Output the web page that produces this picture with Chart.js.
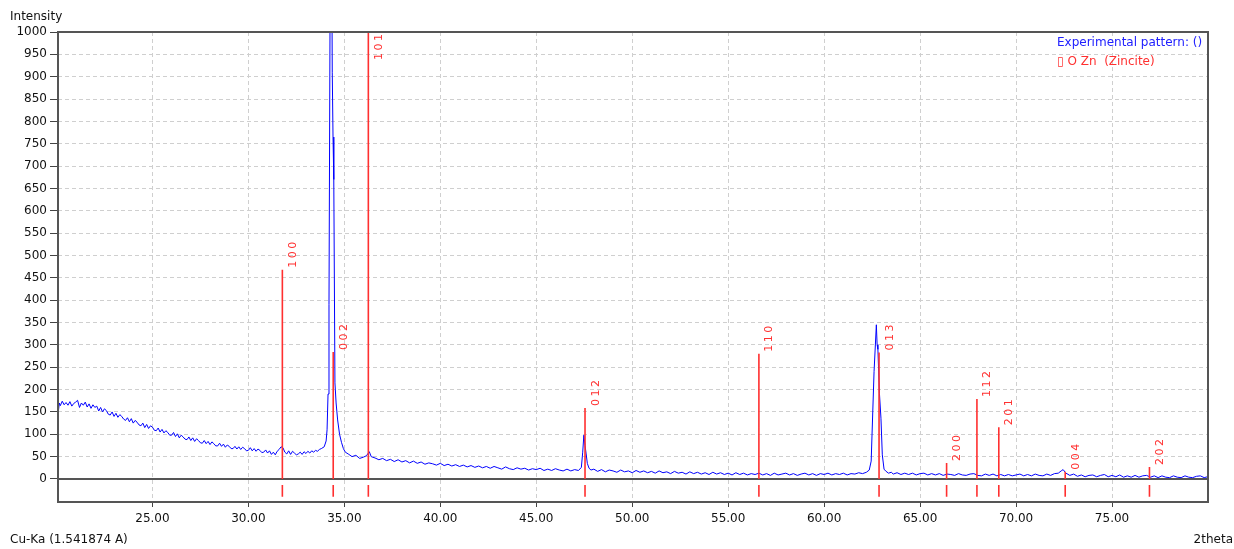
<!DOCTYPE html>
<html>
<head>
<meta charset="utf-8">
<script src="https://cdn.jsdelivr.net/npm/chart.js@4/dist/chart.umd.min.js"></script>
<style>
  html, body { margin: 0; padding: 0; background: #fff; }
  canvas { display: block; }
</style>
</head>
<body>
<canvas id="xrd" width="1234" height="549"></canvas>
<script>
/* Data */
const X_MIN = 20.08;
const X_MAX = 80;
const Y_MIN = -51.5;
const Y_MAX = 1000;

const xTicks = [25, 30, 35, 40, 45, 50, 55, 60, 65, 70, 75];
const yTicks = [0, 50, 100, 150, 200, 250, 300, 350, 400, 450, 500,
    550, 600, 650, 700, 750, 800, 850, 900, 950, 1000];

// Zincite reference lines
const refHkl = ["100", "002", "101", "012", "110", "013", "200", "112", "201", "004", "202"];
const refPos = [31.77, 34.42, 36.25, 47.54, 56.60, 62.86, 66.38, 67.96, 69.10, 72.56, 76.95];
const refInt = [468, 284, 1000, 159, 280, 283, 36, 179, 116, 16, 27];

// measured pattern [2theta, intensity]
const expPattern = [
    [20.10, 152], [20.15, 170], [20.2, 164], [20.3, 174], [20.4, 166], [20.5, 171], [20.6, 165], [20.7, 173],
    [20.8, 163], [20.9, 169], [21.0, 172], [21.1, 176], [21.2, 160], [21.3, 170], [21.4, 165], [21.5, 172],
    [21.6, 161], [21.7, 168], [21.8, 158], [21.9, 166], [22.0, 160], [22.1, 163], [22.2, 152], [22.3, 160],
    [22.4, 150], [22.5, 157], [22.6, 153], [22.7, 145], [22.8, 143], [22.9, 150], [23.0, 140], [23.1, 147],
    [23.2, 138], [23.3, 144], [23.4, 140], [23.5, 134], [23.6, 131], [23.7, 137], [23.8, 128], [23.9, 135],
    [24.0, 125], [24.1, 131], [24.2, 127], [24.3, 121], [24.4, 119], [24.5, 125], [24.6, 115], [24.7, 122],
    [24.8, 113], [24.9, 119], [25.0, 116], [25.1, 109], [25.2, 108], [25.3, 114], [25.4, 105], [25.5, 111],
    [25.6, 103], [25.7, 108], [25.8, 104], [25.9, 98], [26.0, 98], [26.1, 104], [26.2, 95], [26.3, 101],
    [26.4, 92], [26.5, 98], [26.6, 94], [26.7, 89], [26.8, 88], [26.9, 94], [27.0, 86], [27.1, 92],
    [27.2, 84], [27.3, 90], [27.4, 86], [27.5, 81], [27.6, 80], [27.7, 86], [27.8, 79], [27.9, 84],
    [28.0, 77], [28.1, 83], [28.2, 79], [28.3, 74], [28.4, 74], [28.5, 80], [28.6, 73], [28.7, 78],
    [28.8, 71], [28.9, 76], [29.0, 73], [29.1, 68], [29.2, 68], [29.3, 73], [29.4, 67], [29.5, 72],
    [29.6, 66], [29.7, 71], [29.8, 68], [29.9, 63], [30.0, 64], [30.1, 70], [30.2, 63], [30.3, 68],
    [30.4, 62], [30.5, 67], [30.6, 64], [30.7, 59], [30.8, 60], [30.9, 65], [31.0, 58], [31.1, 63],
    [31.2, 55], [31.3, 60], [31.4, 54], [31.5, 62], [31.6, 66], [31.7, 72], [31.8, 70], [31.9, 60],
    [32.0, 56], [32.1, 63], [32.2, 55], [32.3, 62], [32.4, 58], [32.5, 54], [32.6, 56], [32.7, 60],
    [32.8, 55], [32.9, 61], [33.0, 57], [33.1, 62], [33.2, 58], [33.3, 63], [33.4, 60], [33.5, 64],
    [33.6, 62], [33.7, 66], [33.8, 68], [33.95, 72],
    [34.05, 85], [34.10, 110], [34.15, 190], [34.20, 390], [34.26, 1100], [34.32, 1450], [34.37, 910],
    [34.41, 765], [34.45, 670], [34.51, 215], [34.57, 170], [34.65, 132], [34.75, 100], [34.85, 82],
    [34.95, 68], [35.05, 60], [35.2, 56], [35.4, 50], [35.6, 53], [35.8, 46], [36.0, 49], [36.15, 52],
    [36.3, 61], [36.4, 50], [36.6, 47], [36.8, 43], [37.0, 46], [37.2, 41], [37.4, 44], [37.6, 39],
    [37.8, 43], [38.0, 38], [38.2, 41], [38.4, 36], [38.6, 40], [38.8, 35], [39.0, 38], [39.2, 33],
    [39.4, 36], [39.6, 34], [39.8, 31], [40.0, 35], [40.2, 30], [40.4, 33], [40.6, 29], [40.8, 32],
    [41.0, 28], [41.2, 31], [41.4, 27], [41.6, 30], [41.8, 26], [42.0, 29], [42.2, 25], [42.4, 28],
    [42.6, 24], [42.8, 28], [43.0, 25], [43.2, 22], [43.4, 27], [43.6, 23], [43.8, 21], [44.0, 25],
    [44.2, 22], [44.4, 24], [44.6, 20], [44.8, 23], [45.0, 21], [45.2, 24], [45.4, 19], [45.6, 22],
    [45.8, 19], [46.0, 23], [46.2, 20], [46.4, 18], [46.6, 22], [46.8, 18], [47.0, 21], [47.2, 19],
    [47.35, 26], [47.42, 60], [47.48, 98], [47.54, 75], [47.6, 56], [47.66, 35], [47.75, 24], [47.85, 20],
    [48.0, 22], [48.2, 17], [48.4, 21], [48.6, 16], [48.8, 20], [49.0, 18], [49.2, 15], [49.4, 20],
    [49.6, 16], [49.8, 18], [50.0, 14], [50.2, 19], [50.4, 15], [50.6, 18], [50.8, 14], [51.0, 17],
    [51.2, 13], [51.4, 18], [51.6, 14], [51.8, 16], [52.0, 12], [52.2, 17], [52.4, 13], [52.6, 15],
    [52.8, 11], [53.0, 16], [53.2, 12], [53.4, 15], [53.6, 11], [53.8, 14], [54.0, 10], [54.2, 15],
    [54.4, 11], [54.6, 14], [54.8, 10], [55.0, 13], [55.2, 9], [55.4, 14], [55.6, 10], [55.8, 13],
    [56.0, 9], [56.2, 12], [56.4, 10], [56.6, 13], [56.8, 9], [57.0, 12], [57.2, 8], [57.4, 13],
    [57.6, 9], [57.8, 11], [58.0, 13], [58.2, 9], [58.4, 12], [58.6, 8], [58.8, 11], [59.0, 13],
    [59.2, 9], [59.4, 12], [59.6, 8], [59.8, 12], [60.0, 10], [60.2, 13], [60.4, 9], [60.6, 12],
    [60.8, 10], [61.0, 13], [61.2, 9], [61.4, 12], [61.6, 11], [61.8, 14], [62.0, 12], [62.2, 15],
    [62.35, 20], [62.45, 40], [62.6, 240], [62.72, 345], [62.76, 300], [62.8, 290], [62.88, 192],
    [62.96, 136], [63.03, 54], [63.12, 22], [63.2, 18], [63.35, 13], [63.5, 15], [63.6, 11], [63.8, 14],
    [64.0, 10], [64.2, 13], [64.4, 10], [64.6, 13], [64.8, 9], [65.0, 12], [65.2, 13], [65.4, 9],
    [65.6, 12], [65.8, 9], [66.0, 12], [66.2, 8], [66.4, 11], [66.6, 10], [66.8, 8], [67.0, 12],
    [67.2, 9], [67.4, 8], [67.6, 11], [67.8, 12], [68.0, 8], [68.2, 7], [68.4, 11], [68.6, 8],
    [68.8, 11], [69.0, 7], [69.2, 10], [69.4, 7], [69.6, 10], [69.8, 7], [70.0, 9], [70.2, 11],
    [70.4, 7], [70.6, 10], [70.8, 7], [71.0, 11], [71.2, 8], [71.4, 7], [71.6, 11], [71.8, 8],
    [72.0, 12], [72.2, 13], [72.35, 18], [72.45, 21], [72.6, 13], [72.8, 8], [73.0, 11], [73.2, 6],
    [73.4, 9], [73.6, 5], [73.8, 8], [74.0, 9], [74.2, 5], [74.4, 8], [74.6, 10], [74.8, 5],
    [75.0, 8], [75.2, 5], [75.4, 9], [75.6, 4], [75.8, 7], [76.0, 4], [76.2, 8], [76.4, 4],
    [76.6, 7], [76.8, 8], [77.0, 4], [77.2, 7], [77.4, 3], [77.6, 7], [77.8, 4], [78.0, 3],
    [78.2, 7], [78.4, 4], [78.6, 3], [78.8, 7], [79.0, 4], [79.2, 3], [79.4, 6], [79.6, 7],
    [79.8, 3], [79.98, 5]
];

const FONT = '"DejaVu Sans", "Liberation Sans", sans-serif';
const RED = '#ff3030';
const BLUE = '#0000ff';

/* Build the stick datasets */
let stickData = [];
let stickMarks = [];
for (let i = 0; i < refPos.length; i++) {
    stickData.push({x: refPos[i], y: 0}, {x: refPos[i], y: refInt[i]}, {x: refPos[i], y: null});
    stickMarks.push({x: refPos[i], y: -13.5}, {x: refPos[i], y: -40}, {x: refPos[i], y: null});
}

const expData = expPattern.map(p => ({x: p[0], y: p[1]}));

/* Frame, zero line and texts */
const framePlugin = {
    id: 'frame',
    beforeDatasetsDraw(chart) {
        const {ctx, chartArea, scales} = chart;
        const y0 = scales.y.getPixelForValue(0);
        ctx.save();
        ctx.strokeStyle = '#555';
        ctx.lineWidth = 2;
        ctx.beginPath();
        ctx.moveTo(chartArea.left, y0);
        ctx.lineTo(chartArea.right, y0);
        ctx.stroke();
        ctx.restore();
    },
    afterDatasetsDraw(chart) {
        const {ctx, chartArea, scales} = chart;
        ctx.save();
        ctx.font = '11px ' + FONT;
        ctx.fillStyle = RED;
        ctx.textAlign = 'left';
        ctx.textBaseline = 'alphabetic';
        for (let i = 0; i < refHkl.length; i++) {
            const px = scales.x.getPixelForValue(refPos[i]);
            const py = scales.y.getPixelForValue(refInt[i]);
            const bottom = Math.max(py - 2, chartArea.top + 28);
            ctx.save();
            ctx.translate(px + 13.5, bottom);
            ctx.rotate(-Math.PI / 2);
            for (let k = 0; k < refHkl[i].length; k++) {
                ctx.fillText(refHkl[i][k], k * 9.5, 0);
            }
            ctx.restore();
        }
        ctx.restore();
    },
    afterDraw(chart) {
        const {ctx, chartArea} = chart;
        ctx.save();
        ctx.strokeStyle = '#555';
        ctx.lineWidth = 2;
        ctx.strokeRect(chartArea.left, chartArea.top, chartArea.right - chartArea.left, chartArea.bottom - chartArea.top);

        ctx.font = '12px ' + FONT;
        ctx.textBaseline = 'middle';
        ctx.fillStyle = '#111';
        ctx.textAlign = 'left';
        ctx.fillText('Intensity', 10, 17);
        ctx.fillText('Cu-Ka (1.541874 A)', 10, 540);
        ctx.textAlign = 'right';
        ctx.fillText('2theta', 1233, 540);

        ctx.textAlign = 'left';
        ctx.fillStyle = '#2020ff';
        ctx.fillText('Experimental pattern: ()', 1057, 43);
        ctx.fillStyle = RED;
        ctx.fillText('\u25AF O Zn  (Zincite)', 1057, 62);
        ctx.restore();
    }
};

const config = {
    type: 'line',
    data: {
        datasets: [
            {
                label: 'O Zn (Zincite)',
                data: stickData,
                borderColor: RED,
                borderWidth: 1.6,
                pointRadius: 0,
                spanGaps: false,
                order: 0
            },
            {
                label: 'marks',
                data: stickMarks,
                borderColor: RED,
                borderWidth: 1.6,
                pointRadius: 0,
                spanGaps: false,
                order: 0
            },
            {
                label: 'Experimental pattern',
                data: expData,
                borderColor: BLUE,
                borderWidth: 1,
                pointRadius: 0,
                tension: 0,
                order: 1
            }
        ]
    },
    options: {
        responsive: false,
        animation: false,
        devicePixelRatio: 1,
        layout: {padding: {top: 32, right: 26, left: 0, bottom: 0}},
        plugins: {
            legend: {display: false},
            tooltip: {enabled: false}
        },
        scales: {
            x: {
                type: 'linear',
                min: X_MIN,
                max: X_MAX,
                afterBuildTicks: scale => { scale.ticks = xTicks.map(v => ({value: v})); },
                afterFit: scale => { scale.height = 47; },
                grid: {
                    color: '#cfcfcf',
                    drawTicks: true,
                    tickLength: 5,
                    tickColor: '#444'
                },
                border: {display: false, dash: [4, 3]},
                ticks: {
                    padding: 5,
                    color: '#111',
                    font: {family: FONT, size: 12},
                    maxRotation: 0,
                    callback: v => v.toFixed(2)
                }
            },
            y: {
                type: 'linear',
                min: Y_MIN,
                max: Y_MAX,
                afterBuildTicks: scale => { scale.ticks = yTicks.map(v => ({value: v})); },
                afterFit: scale => { scale.width = 58; },
                grid: {
                    color: '#cfcfcf',
                    drawTicks: true,
                    tickLength: 8,
                    tickColor: '#444'
                },
                border: {display: false, dash: [4, 3]},
                ticks: {
                    padding: 3,
                    color: '#111',
                    font: {family: FONT, size: 12},
                    callback: v => String(v)
                }
            }
        }
    },
    plugins: [framePlugin]
};

new Chart(document.getElementById('xrd'), config);
</script>
</body>
</html>
